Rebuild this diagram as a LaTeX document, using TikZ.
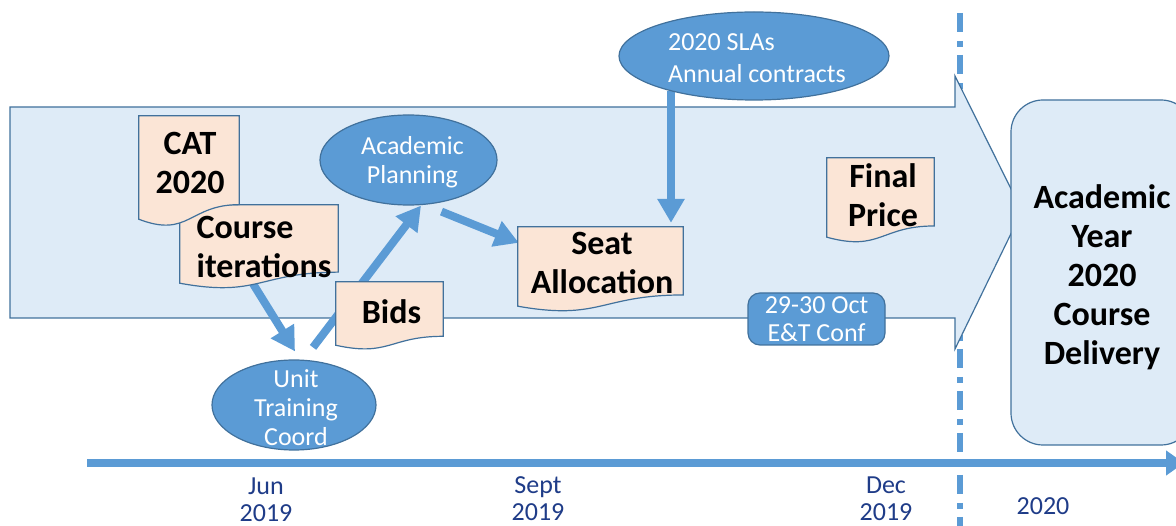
\documentclass[tikz,border=0pt]{standalone}
\usepackage{fontspec}
\setmainfont{Carlito}
\usetikzlibrary{arrows.meta,calc,shapes.geometric}
\pgfdeclarelayer{bottom}
\pgfdeclarelayer{back}
\pgfdeclarelayer{flows}
\pgfsetlayers{bottom,back,flows,main}
\definecolor{lightfill}{HTML}{DEEBF7}
\definecolor{edgeblue}{HTML}{41719C}
\definecolor{accent}{HTML}{5B9BD5}
\definecolor{docfill}{HTML}{FBE5D6}
\definecolor{navy}{HTML}{1F3C88}
\newcommand\docshape[1]{%
  \draw[docline] (#1.north west) -- (#1.north east)
    -- ($(#1.north east)!0.802!(#1.south east)$)
    .. controls ($(#1.north)!0.802!(#1.south)$) and ($(#1.north)!1.1075!(#1.south)$)
    .. ($(#1.north west)!0.934!(#1.south west)$) -- cycle;}
\begin{document}
\begin{tikzpicture}[x=1pt,y=-1pt,
  bigarrow/.style={fill=lightfill, draw=edgeblue, line width=1.2pt},
  divider/.style={draw=accent, line width=6pt, dash pattern=on 19pt off 9pt on 6pt off 8pt},
  timeline/.style={draw=accent, line width=8pt, -{Triangle[width=24pt,length=18pt]}},
  flow/.style={draw=accent, line width=8pt, -{Triangle[width=26pt,length=24pt]}},
  docbox/.style={rectangle, draw=none, inner sep=0pt},
  docline/.style={fill=docfill, draw=edgeblue, line width=1.2pt},
  doctext/.style={font=\fontsize{34}{39}\selectfont\bfseries, align=center, inner sep=0pt},
  oval/.style={ellipse, fill=accent, draw=edgeblue, line width=1.2pt, inner sep=0pt},
  ovaltext/.style={text=white, font=\fontsize{26}{29}\selectfont, align=center, inner sep=0pt},
  tllabel/.style={text=navy, font=\fontsize{26}{27}\selectfont, align=center, inner sep=0pt},
  confbox/.style={rectangle, rounded corners=12pt, fill=accent, draw=edgeblue, line width=1.2pt, text=white, font=\fontsize{26}{28}\selectfont, align=center, inner sep=0pt},
  delivery/.style={rectangle, rounded corners=32pt, fill=lightfill, draw=edgeblue, line width=1.2pt, inner sep=0pt}
]
\useasboundingbox (0,0) rectangle (1176,526);
\clip (0,0) rectangle (1176,526);

% coordinates
\coordinate (dtop) at (960,13);
\coordinate (dbot) at (960,540);
\coordinate (t0) at (87,463);
\coordinate (t1) at (1184,463);

\begin{pgfonlayer}{bottom}
  \draw[divider] (dtop) -- (dbot);
\end{pgfonlayer}
\begin{pgfonlayer}{back}
  \draw[bigarrow] (10,107) -- (955,107) -- (955,76) -- (1022,211) -- (955,349) -- (955,318) -- (10,318) -- cycle;
\end{pgfonlayer}

\draw[timeline] (t0) -- (t1);

% delivery box
\node[delivery, minimum width=182pt, minimum height=345pt] (ay) at (1102,272.5) {};
\node[doctext] (ay-t) at ([yshift=-4.5pt]ay.center) {Academic\\Year\\2020\\Course\\Delivery};

% conference box
\node[confbox, minimum width=137pt, minimum height=52pt] (cf) at (816.5,319) {29-30 Oct\\E\&T Conf};

% timeline labels
\node[tllabel] (jun) at (266,499.5) {Jun\\2019};
\node[tllabel] (sep) at (538,499) {Sept\\2019};
\node[tllabel] (dec) at (886,499) {Dec\\2019};
\node[tllabel] (y20) at (1043,506) {2020};

% document shapes (geometry)
\node[docbox, minimum width=100pt, minimum height=110.3pt] (cat) at (189,171.2) {};
\node[docbox, minimum width=158pt, minimum height=83.5pt] (ci) at (259,246.8) {};
\node[docbox, minimum width=107pt, minimum height=67.5pt] (bids) at (389.5,315.8) {};
\node[docbox, minimum width=165pt, minimum height=84.6pt] (sa) at (600.5,269.3) {};
\node[docbox, minimum width=107pt, minimum height=84.6pt] (fp) at (880.5,200.3) {};

\docshape{ci}
\docshape{cat}
\node[doctext] (cat-t) at ([xshift=1pt,yshift=8.5pt]cat.center) {CAT\\2020};
\node[doctext, align=left] (ci-t) at ([xshift=5pt]ci.center) {Course\\iterations};
\docshape{bids}
\node[doctext] (bids-t) at ([xshift=2pt,yshift=4pt]bids.center) {Bids};
\docshape{sa}
\node[doctext] (sa-t) at ([xshift=1.5pt,yshift=6pt]sa.center) {Seat\\Allocation};
\docshape{fp}
\node[doctext] (fp-t) at ([xshift=2.5pt,yshift=5pt]fp.center) {Final\\Price};

% ellipses
\node[oval, minimum width=177pt, minimum height=90pt] (ap) at (408.5,160) {};
\node[ovaltext] (ap-t) at ([xshift=4pt,yshift=-2.5pt]ap.center) {Academic\\Planning};
\node[oval, minimum width=270pt, minimum height=88pt] (sla) at (754,56) {};
\node[ovaltext, align=left, font=\fontsize{26}{32}\selectfont] (sla-t) at ([xshift=3pt,yshift=-2pt]sla.center) {2020 SLAs\\Annual contracts};
\node[oval, minimum width=164pt, minimum height=90pt] (utc) at (294,405) {};
\node[ovaltext] (utc-t) at ([xshift=2pt,yshift=-3pt]utc.center) {Unit\\Training\\Coord};

% flow arrows
\begin{pgfonlayer}{flows}
  \draw[flow] ([xshift=-6pt,yshift=5pt]ci.south) -- ([xshift=1pt,yshift=8pt]utc.north);
  \draw[flow] ([xshift=19pt,yshift=12pt]utc.north) -- ([xshift=12.5pt]ap.south);
  \draw[flow] ([xshift=33pt,yshift=-6pt]ap.south) -- ([xshift=1pt,yshift=-16pt]sa.north west);
  \draw[flow] ([xshift=-83pt,yshift=10pt]sla.south) -- ([xshift=70.5pt,yshift=4pt]sa.north);
\end{pgfonlayer}
\end{tikzpicture}
\end{document}
